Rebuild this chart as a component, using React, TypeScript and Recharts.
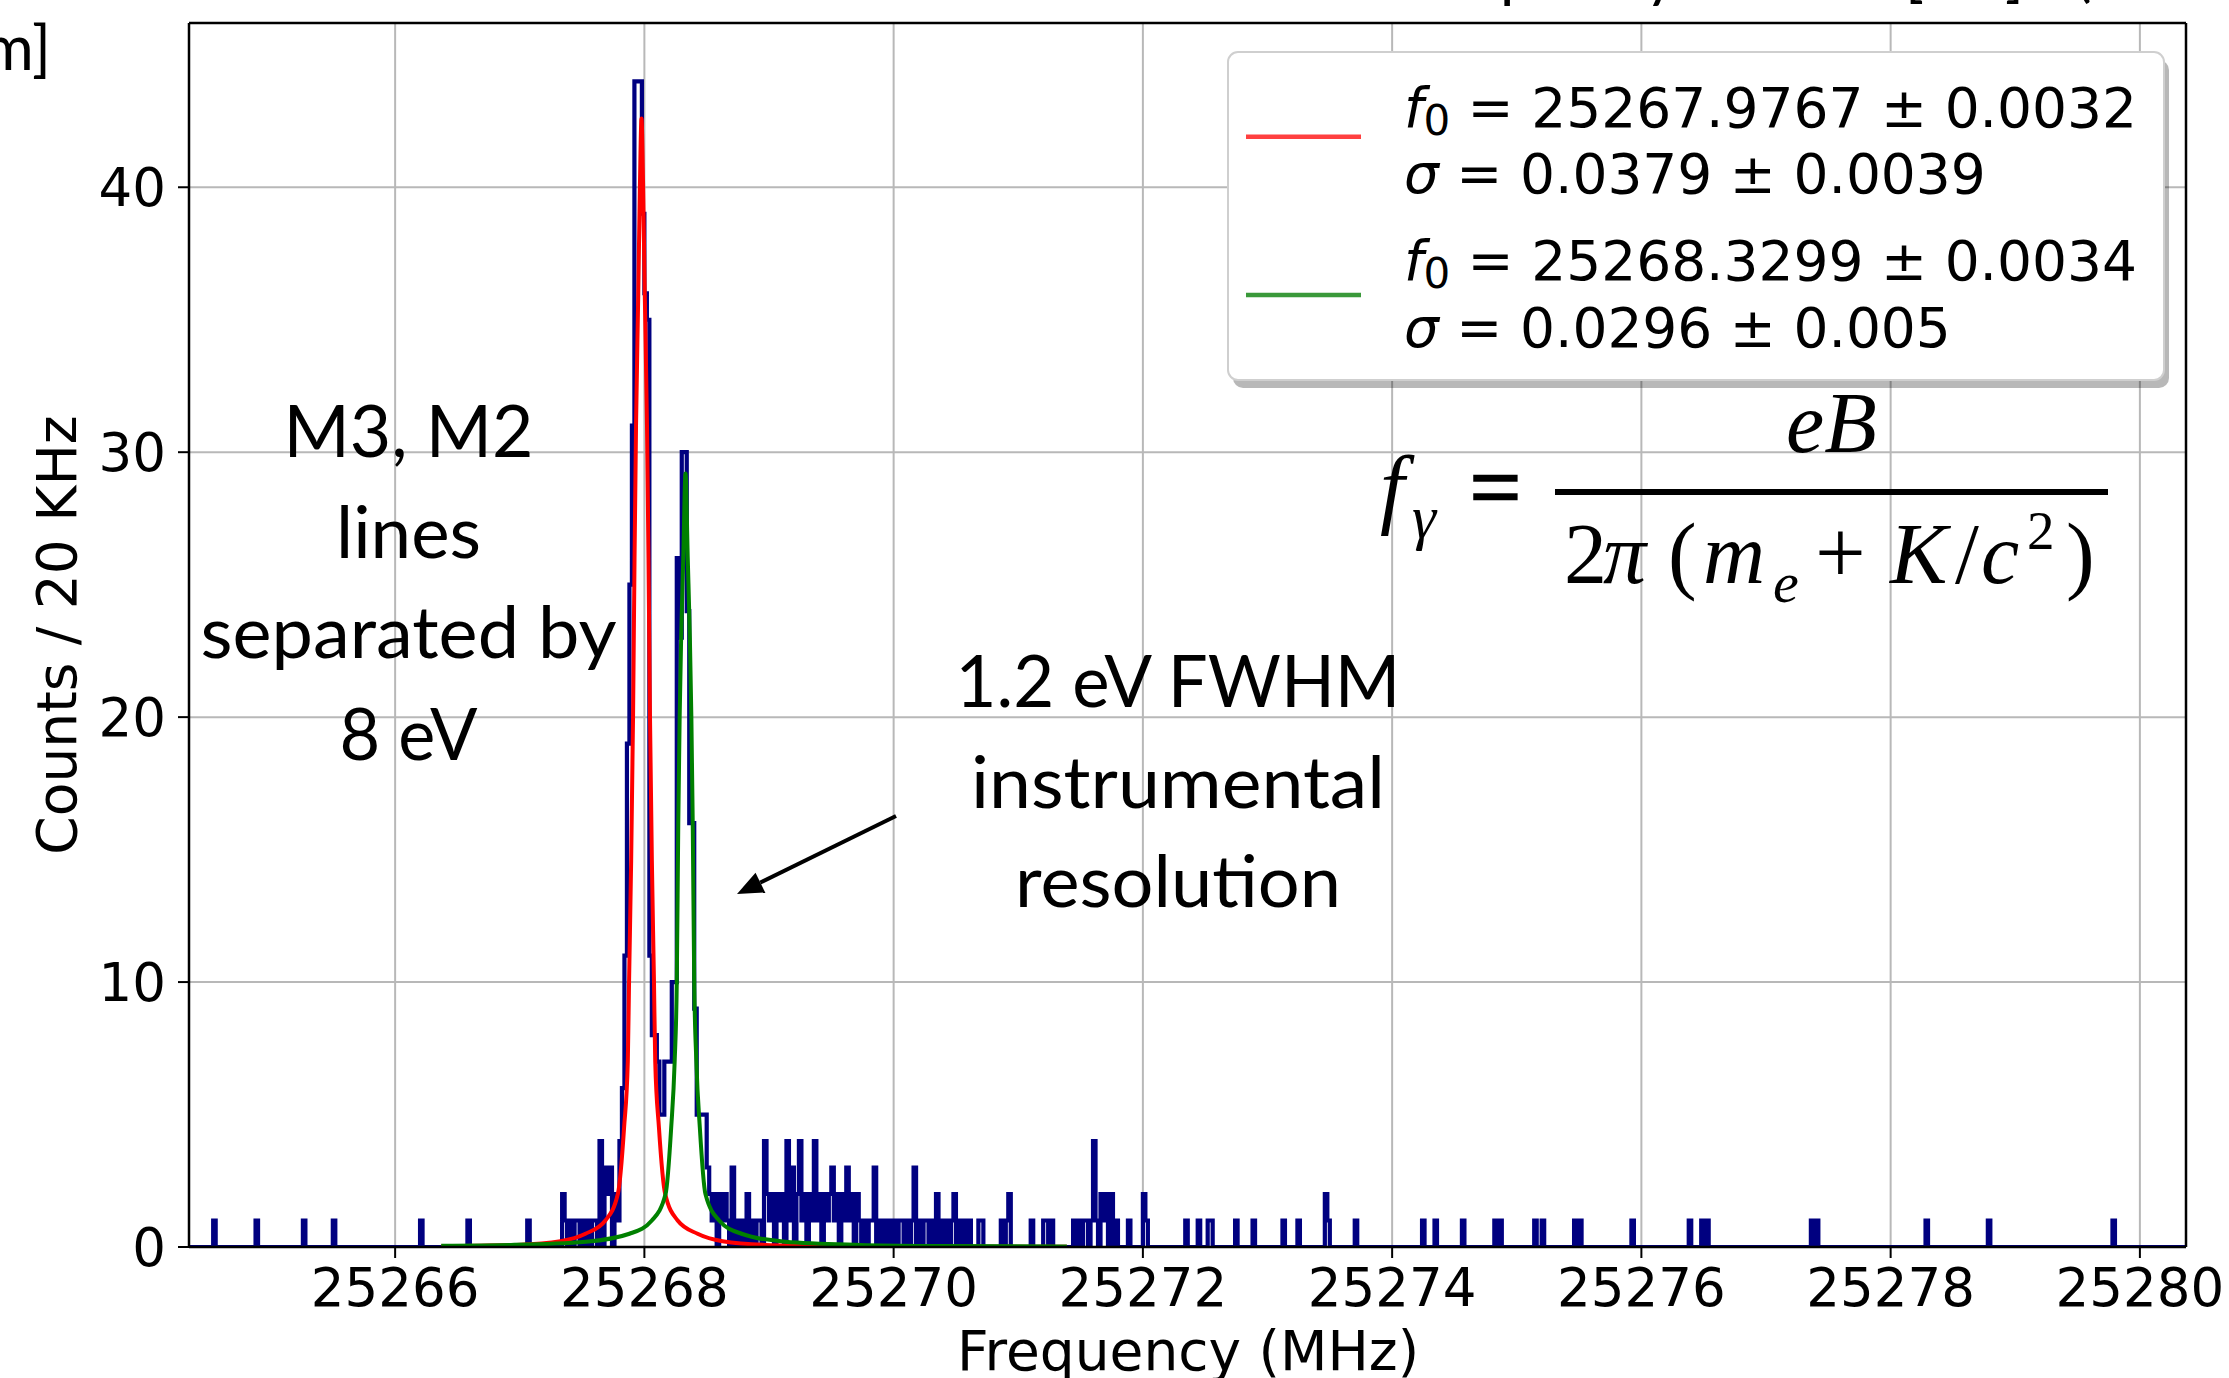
import React from 'react';
import { ComposedChart, Line, XAxis, YAxis, CartesianGrid, ReferenceLine, Legend } from 'recharts';

const W = 2229;
const H = 1378;
const X_MIN = 25264.346;
const X_MAX = 25280.37;
const Y_MAX = 46.2;
const BIN_WIDTH = 0.02; // 20 kHz bins (MHz)

const xTicks = [25266, 25268, 25270, 25272, 25274, 25276, 25278, 25280];
const yTicks = [0, 10, 20, 30, 40];

// Histogram: left edges (MHz) of the non-empty 20 kHz bins, and their counts
const histBinStart = [
  25264.54, 25264.88, 25265.26, 25265.50, 25266.20, 25266.58, 25267.06,
  25267.34, 25267.36, 25267.40, 25267.44, 25267.46, 25267.50, 25267.54, 25267.58, 25267.60,
  25267.64, 25267.68, 25267.70, 25267.72, 25267.76, 25267.78, 25267.80,
  25267.82, 25267.84, 25267.86, 25267.88, 25267.90, 25267.92, 25267.94, 25267.96, 25267.98,
  25268.00, 25268.02, 25268.04, 25268.06, 25268.08, 25268.10, 25268.12, 25268.14, 25268.16,
  25268.18, 25268.20, 25268.22, 25268.24, 25268.26, 25268.28, 25268.30, 25268.32, 25268.34,
  25268.36, 25268.38, 25268.40, 25268.42, 25268.44, 25268.46, 25268.48,
  25268.50, 25268.52, 25268.54, 25268.56, 25268.60, 25268.62, 25268.64, 25268.66, 25268.70,
  25268.74, 25268.78, 25268.82, 25268.86, 25268.90, 25268.92, 25268.96, 25268.98,
  25269.00, 25269.02, 25269.06, 25269.08, 25269.10, 25269.14, 25269.16, 25269.18, 25269.22,
  25269.24, 25269.26, 25269.28, 25269.32, 25269.34, 25269.36, 25269.38, 25269.40, 25269.44,
  25269.46, 25269.48, 25269.50, 25269.52, 25269.54, 25269.58, 25269.60, 25269.62, 25269.64,
  25269.66, 25269.70, 25269.72, 25269.76, 25269.80, 25269.82, 25269.84, 25269.88, 25269.92, 25269.96,
  25270.00, 25270.04, 25270.06, 25270.10, 25270.14, 25270.16, 25270.20, 25270.24, 25270.26,
  25270.30, 25270.34, 25270.38, 25270.42, 25270.46, 25270.48, 25270.52, 25270.56, 25270.60,
  25270.68, 25270.70, 25270.86, 25270.90, 25270.92,
  25271.10, 25271.20, 25271.22, 25271.26, 25271.44, 25271.48, 25271.52, 25271.54, 25271.58,
  25271.60, 25271.62, 25271.66, 25271.68, 25271.70, 25271.74, 25271.78, 25271.88,
  25272.00, 25272.02, 25272.34, 25272.44, 25272.52, 25272.54, 25272.74, 25272.88,
  25273.12, 25273.24, 25273.46, 25273.48, 25273.70,
  25274.24, 25274.34, 25274.56, 25274.82, 25274.86,
  25275.14, 25275.20, 25275.46, 25275.50, 25275.92,
  25276.38, 25276.48, 25276.52,
  25277.36, 25277.40,
  25278.28, 25278.78,
  25279.78,
];
const histBinCount = [
  1, 1, 1, 1, 1, 1, 1,
  2, 1, 1, 1, 1, 1, 1, 1, 1,
  4, 3, 2, 3, 2, 1, 4,
  6, 11, 19, 25, 31, 44, 44, 44, 39,
  36, 35, 11, 8, 8, 7, 5, 5, 7,
  7, 7, 10, 10, 26, 23, 30, 30, 24,
  16, 16, 9, 5, 5, 5, 5,
  3, 2, 1, 2, 2, 1, 2, 1, 3,
  1, 1, 2, 1, 1, 1, 4, 2,
  1, 2, 2, 1, 2, 4, 1, 3, 2,
  4, 1, 2, 2, 1, 4, 1, 2, 2,
  1, 2, 3, 1, 2, 2, 1, 3, 1,
  2, 2, 1, 1, 1, 1, 3, 1, 1, 1,
  1, 1, 1, 1, 1, 3, 1, 1, 1,
  1, 2, 1, 1, 1, 2, 1, 1, 1,
  1, 1, 1, 1, 2,
  1, 1, 1, 1, 1, 1, 1, 1, 1,
  4, 1, 2, 1, 2, 2, 1, 1,
  2, 1, 1, 1, 1, 1, 1, 1,
  1, 1, 2, 1, 1,
  1, 1, 1, 1, 1,
  1, 1, 1, 1, 1,
  1, 1, 1,
  1, 1,
  1, 1,
  1,
];

// Fit curve for the M3 line (red)
const redFreq = [
  25266.37, 25266.977, 25267.327, 25267.527, 25267.687, 25267.787, 25267.837, 25267.867,
  25267.877, 25267.894, 25267.909, 25267.921, 25267.933, 25267.951, 25267.964, 25267.977,
  25267.990, 25268.003, 25268.021, 25268.033, 25268.045, 25268.060, 25268.077, 25268.087,
  25268.117, 25268.167, 25268.267, 25268.427, 25268.627, 25268.977, 25269.477, 25270.377, 25271.39,
];
const redValue = [
  0.03, 0.08, 0.22, 0.5, 1.0, 2.0, 4.5, 7.0,
  10.0, 14.6, 20.0, 26.0, 31.0, 36.0, 40.0, 42.6,
  40.0, 36.0, 31.0, 26.0, 20.0, 14.6, 10.0, 7.0,
  4.5, 2.0, 1.0, 0.5, 0.22, 0.08, 0.04, 0.015, 0.008,
];

// Fit curve for the M2 line (green)
const greenFreq = [
  25266.37, 25266.93, 25267.53, 25267.88, 25268.06, 25268.17, 25268.215, 25268.243,
  25268.26, 25268.272, 25268.283, 25268.295, 25268.312, 25268.33, 25268.348, 25268.365,
  25268.377, 25268.388, 25268.40, 25268.417, 25268.445, 25268.49, 25268.60, 25268.78,
  25269.13, 25269.73, 25270.33, 25271.39,
];
const greenValue = [
  0.05, 0.08, 0.2, 0.5, 1.0, 2.0, 4.5, 7.0,
  10.0, 16.0, 20.0, 23.0, 26.0, 29.2, 26.0, 23.0,
  20.0, 16.0, 10.0, 7.0, 4.5, 2.0, 1.0, 0.5,
  0.2, 0.08, 0.04, 0.02,
];

const legendRows = [
  { color: '#ff4040', f0: ' = 25267.9767 ± 0.0032', sigma: ' = 0.0379 ± 0.0039' },
  { color: '#3a993a', f0: ' = 25268.3299 ± 0.0034', sigma: ' = 0.0296 ± 0.005' },
];

const leftNote = ['M3, M2', 'lines', 'separated by', '8 eV'];
const rightNote = ['1.2 eV FWHM', 'instrumental', 'resolution'];

function buildHistogram() {
  const pts: { f: number; h: number }[] = [{ f: X_MIN, h: 0 }];
  for (let i = 0; i < histBinStart.length; i++) {
    const s = histBinStart[i];
    const e = +(s + BIN_WIDTH).toFixed(4);
    pts.push({ f: s, h: histBinCount[i] });
    const next = histBinStart[i + 1];
    if (next === undefined || Math.abs(next - e) > 1e-6) pts.push({ f: e, h: 0 });
  }
  pts.push({ f: X_MAX, h: 0 });
  return pts;
}

const histData = buildHistogram();
const redData = redFreq.map((f, i) => ({ f, v: redValue[i] }));
const greenData = greenFreq.map((f, i) => ({ f, v: greenValue[i] }));

const TICK_FONT = { fontFamily: 'DejaVu Sans', fontSize: 53, fill: '#000' };

function LegendBox() {
  const lineY = [86.7, 245];
  const base = [76.7, 143.3, 230, 296.7];
  return (
    <svg width={950} height={345} style={{ display: 'block' }}>
      <rect x={7} y={10} width={936} height={328} rx={10} fill="#000" opacity={0.28} />
      <rect x={2} y={2} width={936} height={328} rx={10} fill="#fff" stroke="#cfcfcf" strokeWidth={2} />
      {legendRows.map((r, i) => (
        <g key={i}>
          <line x1={20} x2={135} y1={lineY[i]} y2={lineY[i]} stroke={r.color} strokeWidth={4.5} />
          <text x={178} y={base[2 * i]} fontFamily="DejaVu Sans" fontSize={55} fill="#000">
            <tspan fontStyle="italic">f</tspan>
            <tspan fontSize={42} dy={8}>0</tspan>
            <tspan dy={-8}>{r.f0}</tspan>
          </text>
          <text x={178} y={base[2 * i + 1]} fontFamily="DejaVu Sans" fontSize={55} fill="#000">
            <tspan fontStyle="italic">σ</tspan>
            <tspan>{r.sigma}</tspan>
          </text>
        </g>
      ))}
    </svg>
  );
}

function Overlay() {
  const tip = { x: 737, y: 894 };
  const start = { x: 896, y: 816 };
  const dx = tip.x - start.x;
  const dy = tip.y - start.y;
  const len = Math.hypot(dx, dy);
  const ux = dx / len;
  const uy = dy / len;
  const bx = tip.x - 26 * ux;
  const by = tip.y - 26 * uy;
  const px = -uy * 11;
  const py = ux * 11;
  const leftBase = [456.8, 557.5, 658.4, 759.5];
  const leftLen = [250, 145, 416, 138];
  const rightBase = [706.5, 807.5, 907];
  const rightLen = [445, 414, 326];
  return (
    <svg width={W} height={H} style={{ position: 'absolute', left: 0, top: 0, pointerEvents: 'none' }}>
      {/* slide text cut off by the edge of the picture */}
      <text x={51} y={70} textAnchor="end" fontFamily="Lato" fontSize={62} fill="#000">m]</text>
      <g fontFamily="Lato" fontSize={62} fill="#000">
        <text x={1500} y={-5}>p</text>
        <text x={1645} y={-5}>y</text>
        <text x={1905} y={-5}>[</text>
        <text x={2005} y={-5}>]</text>
        <text x={2075} y={-5}>(</text>
      </g>

      {/* axis labels */}
      <text x={76} y={635} transform="rotate(-90 76 635)" textAnchor="middle" fontFamily="DejaVu Sans" fontSize={55} fill="#000">
        Counts / 20 KHz
      </text>
      <text x={1188} y={1370} textAnchor="middle" fontFamily="DejaVu Sans" fontSize={55} fill="#000">
        Frequency (MHz)
      </text>

      {/* annotations */}
      {leftNote.map((t, i) => (
        <text key={t} x={408.5} y={leftBase[i]} textAnchor="middle" fontFamily="Lato" fontSize={72} fill="#000"
          textLength={leftLen[i]} lengthAdjust="spacingAndGlyphs">{t}</text>
      ))}
      {rightNote.map((t, i) => (
        <text key={t} x={1178} y={rightBase[i]} textAnchor="middle" fontFamily="Lato" fontSize={72} fill="#000"
          textLength={rightLen[i]} lengthAdjust="spacingAndGlyphs">{t}</text>
      ))}
      <line x1={start.x} y1={start.y} x2={bx} y2={by} stroke="#000" strokeWidth={4} />
      <polygon points={`${tip.x},${tip.y} ${bx + px},${by + py} ${bx - px},${by - py}`} fill="#000" />

      {/* formula */}
      <g fontFamily="Liberation Serif" fill="#000">
        <text x={1380} y={517} fontSize={88} fontStyle="italic">f</text>
        <text x={1412} y={538} fontSize={61} fontStyle="italic">γ</text>
        <text x={1470} y={518} fontSize={90} stroke="#000" strokeWidth={2.5}>=</text>
        <line x1={1555} x2={2108} y1={492} y2={492} stroke="#000" strokeWidth={6} />
        <text x={1786} y={452} fontSize={86} fontStyle="italic">eB</text>
        <text x={1564} y={583} fontSize={86}>2</text>
        <text x={1603} y={583} fontSize={86} fontStyle="italic">π</text>
        <text x={1668} y={583} fontSize={86}>(</text>
        <text x={1703} y={583} fontSize={86} fontStyle="italic">m</text>
        <text x={1773} y={602} fontSize={58} fontStyle="italic">e</text>
        <text x={1815} y={583} fontSize={90}>+</text>
        <text x={1890} y={583} fontSize={86} fontStyle="italic">K</text>
        <text x={1955} y={583} fontSize={86}>/</text>
        <text x={1981} y={583} fontSize={86} fontStyle="italic">c</text>
        <text x={2027} y={549} fontSize={55}>2</text>
        <text x={2066} y={583} fontSize={86}>)</text>
      </g>
    </svg>
  );
}

export default function App() {
  return (
    <div style={{ position: 'fixed', left: 0, top: 0, width: W, height: H, background: '#fff', overflow: 'hidden' }}>
      <ComposedChart width={W} height={H} margin={{ top: 23, right: 43, bottom: 0, left: 0 }}>
        <CartesianGrid stroke="#b8b8b8" strokeWidth={2} />
        <XAxis
          dataKey="f"
          type="number"
          domain={[X_MIN, X_MAX]}
          allowDataOverflow
          ticks={xTicks}
          interval={0}
          height={131}
          tickSize={11}
          tickMargin={10}
          tick={TICK_FONT}
          axisLine={{ stroke: '#000', strokeWidth: 2.5 }}
          tickLine={{ stroke: '#000', strokeWidth: 2 }}
        />
        <YAxis
          type="number"
          domain={[0, Y_MAX]}
          allowDataOverflow
          ticks={yTicks}
          interval={0}
          width={189}
          tickSize={11}
          tickMargin={12}
          tick={TICK_FONT}
          axisLine={{ stroke: '#000', strokeWidth: 2.5 }}
          tickLine={{ stroke: '#000', strokeWidth: 2 }}
        />
        <Line
          data={histData}
          dataKey="h"
          type="stepAfter"
          stroke="#000080"
          strokeWidth={4.2}
          dot={false}
          activeDot={false}
          isAnimationActive={false}
          legendType="none"
        />
        <Line
          data={redData}
          dataKey="v"
          type="monotone"
          stroke="#ff0000"
          strokeWidth={4}
          dot={false}
          activeDot={false}
          isAnimationActive={false}
        />
        <Line
          data={greenData}
          dataKey="v"
          type="monotone"
          stroke="#008000"
          strokeWidth={4}
          dot={false}
          activeDot={false}
          isAnimationActive={false}
        />
        <ReferenceLine y={Y_MAX} stroke="#000" strokeWidth={2.5} />
        <ReferenceLine x={X_MAX} stroke="#000" strokeWidth={2.5} />
        <Legend
          layout="vertical"
          align="center"
          verticalAlign="middle"
          content={() => <LegendBox />}
          wrapperStyle={{ left: 1226, top: 50, width: 950, height: 345 }}
        />
      </ComposedChart>
      <Overlay />
    </div>
  );
}
